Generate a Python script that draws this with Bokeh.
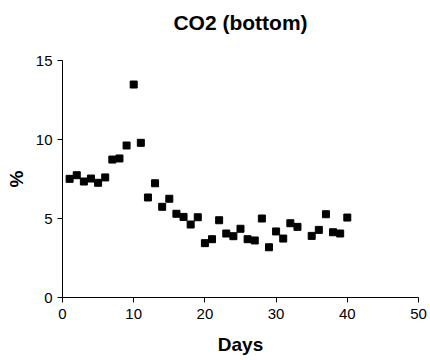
from bokeh.plotting import figure
from bokeh.models import Range1d, FixedTicker, ColumnDataSource, Title
from bokeh.embed import file_html
from bokeh.resources import INLINE

days = [1, 2, 3, 4, 5, 6, 7, 8, 9, 10, 11, 12, 13, 14, 15, 16, 17, 18, 19, 20,
        21, 22, 23, 24, 25, 26, 27, 28, 29, 30, 31, 32, 33, 35, 36, 37, 38, 39, 40]
co2 = [7.51, 7.74, 7.34, 7.53, 7.26, 7.6, 8.73, 8.8, 9.62, 13.48, 9.79, 6.33, 7.23, 5.74, 6.25,
       5.3, 5.1, 4.62, 5.08, 3.44, 3.69, 4.89, 4.05, 3.88, 4.35, 3.69, 3.61, 5.0, 3.18, 4.18,
       3.73, 4.7, 4.47, 3.9, 4.28, 5.27, 4.13, 4.05, 5.06]
x_ticks = [0, 10, 20, 30, 40, 50]
y_ticks = [0, 5, 10, 15]
title_text = "CO2 (bottom)"

src = ColumnDataSource(dict(x=days, y=co2))

FONT = "Liberation Sans"

p = figure(width=430, height=360, output_backend="svg", toolbar_location=None,
           x_range=Range1d(0, 50), y_range=Range1d(0, 15), title=title_text,
           min_border_left=62, min_border_right=12, min_border_top=60, min_border_bottom=63)

p.scatter("x", "y", source=src, marker="square", size=7, color="black")

p.outline_line_color = None
p.grid.visible = False
p.background_fill_color = "white"
p.border_fill_color = "white"

p.title.text_font = FONT
p.title.text_font_size = "21px"
p.title.text_font_style = "bold"
p.title.align = "center"
p.title.text_color = "black"
p.title.standoff = 0

# blank spacer title between the real title and the frame
p.add_layout(Title(text=" ", text_font_size="10px", standoff=14), "above")

for ax, ticks, label in ((p.xaxis[0], x_ticks, "Days"), (p.yaxis[0], y_ticks, "%")):
    ax.ticker = FixedTicker(ticks=ticks)
    ax.minor_tick_line_color = None
    ax.major_tick_out = 5
    ax.major_tick_in = 0
    ax.axis_line_color = "black"
    ax.major_tick_line_color = "black"
    ax.major_label_text_font = FONT
    ax.major_label_text_font_size = "15px"
    ax.major_label_text_color = "black"
    ax.axis_label = label
    ax.axis_label_text_font = FONT
    ax.axis_label_text_font_size = "19px"
    ax.axis_label_text_font_style = "bold"
    ax.axis_label_text_color = "black"

p.xaxis.major_label_standoff = 6
p.xaxis.axis_label_standoff = 12
p.yaxis.major_label_standoff = 5
p.yaxis.axis_label_standoff = 6

open("out.html", "w").write(file_html(p, INLINE))
